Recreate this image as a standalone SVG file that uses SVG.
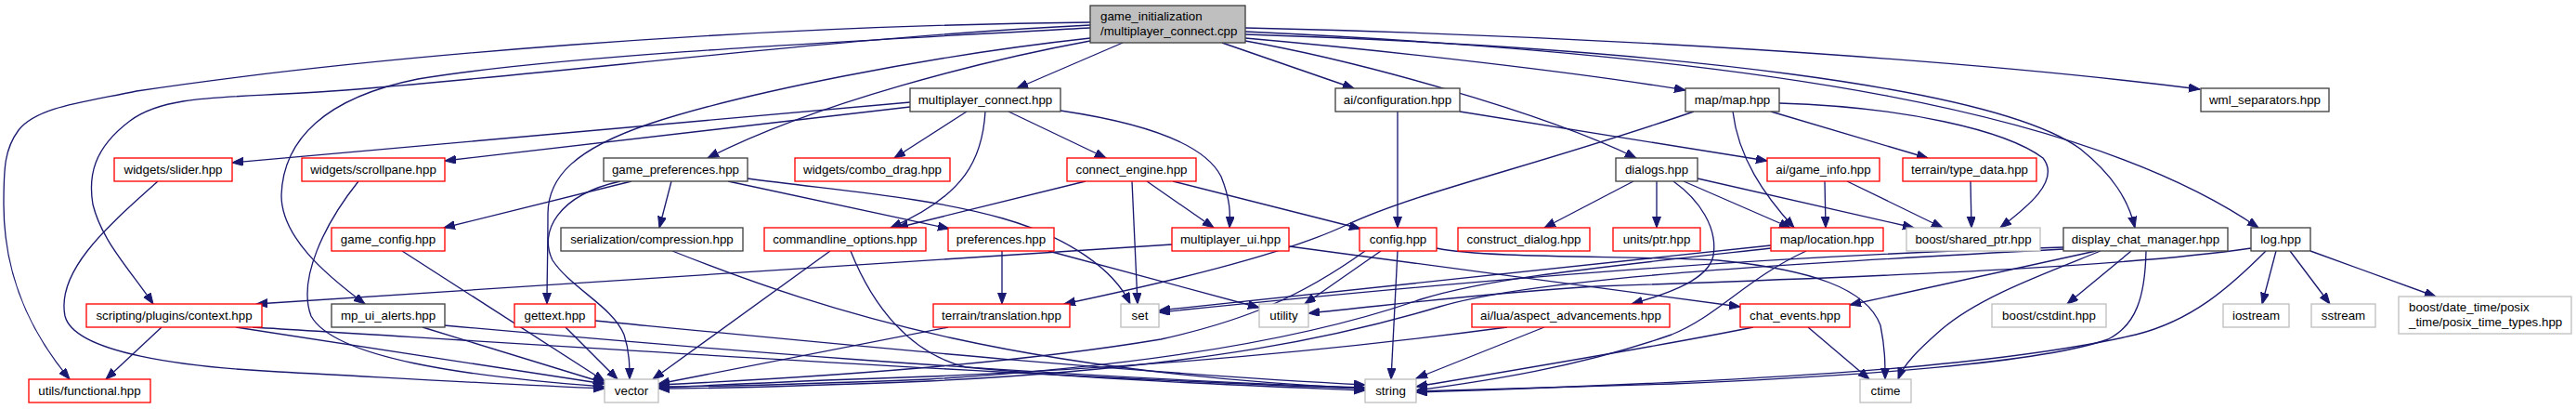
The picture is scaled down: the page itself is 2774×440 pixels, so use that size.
<svg xmlns="http://www.w3.org/2000/svg" width="2774" height="440" viewBox="0 0 2774 440">
<style>
rect{fill:#fff;stroke-width:1.33}
.n{stroke:#404040}
.r{stroke:#ff0000}
.g{stroke:#bfbfbf}
.top{fill:#bfbfbf;stroke:#404040}
text{font-family:"Liberation Sans",Arial,sans-serif;font-size:13.33px;fill:#000;text-anchor:middle}
text.l{text-anchor:start}
#edges path{fill:none;stroke:#191970;stroke-width:1.33;marker-end:url(#a)}
</style>
<defs>
<marker id="a" markerWidth="13" markerHeight="10" refX="12" refY="4.5" orient="auto" markerUnits="userSpaceOnUse">
<path d="M0,0 L12,4.5 L0,9 z" fill="#191970" stroke="#191970" stroke-width="1"/>
</marker>
</defs>
<rect width="2774" height="440" fill="#fff" stroke="none"/>
<g id="edges">
<path d="M1209,46 L1095,95"/>
<path d="M1174,44 C1060,65 880,110 762,170"/>
<path d="M1316,46 L1458,95"/>
<path d="M1341,41 C1500,55 1700,78 1815,97"/>
<path d="M1341,44 C1460,65 1660,120 1762,170"/>
<path d="M1341,30 C1700,38 2100,62 2369,96"/>
<path d="M1341,34 C1900,60 2250,120 2432,245"/>
<path d="M1341,37 C1800,52 2150,95 2240,160 C2275,188 2292,215 2299,245"/>
<path d="M1174,30 C900,45 600,60 450,85 C350,105 305,150 303,210 C303,255 350,295 393,327"/>
<path d="M1174,41 C1000,60 800,100 700,133 C620,160 590,190 590,230 C590,270 589,300 589,327"/>
<path d="M1174,27 C900,40 600,80 357,98 C250,106 180,100 140,130 C100,160 95,190 100,220 C110,260 140,290 165,327"/>
<path d="M1174,24 C800,28 400,60 147,98 C90,110 40,115 20,140 C5,160 4,180 4,220 C4,300 35,360 75,408"/>
<path d="M980,110 L250,175"/>
<path d="M980,115 L479,173"/>
<path d="M1041,120 L963,170"/>
<path d="M1086,120 L1191,170"/>
<path d="M1061,120 C1058,170 1040,210 959,245"/>
<path d="M1142,119 C1250,135 1300,160 1315,190 C1325,215 1325,230 1324,245"/>
<path d="M1505,120 L1505,245"/>
<path d="M1572,120 L1903,173"/>
<path d="M1866,120 C1872,170 1900,210 1932,245"/>
<path d="M1907,120 L2076,170"/>
<path d="M1916,111 C2050,115 2160,140 2200,170 C2220,195 2180,225 2154,245"/>
<path d="M1824,120 C1650,180 1530,205 1450,242 C1380,275 1250,305 1146,327"/>
<path d="M1759,195 L1663,245"/>
<path d="M1784,195 L1784,245"/>
<path d="M1802,195 C1830,215 1850,245 1845,275 C1840,300 1800,315 1757,327"/>
<path d="M1813,195 L1928,245"/>
<path d="M1828,192 L2061,245"/>
<path d="M1965,195 L1966,245"/>
<path d="M1989,195 L2092,245"/>
<path d="M2122,195 L2123,245"/>
<path d="M680,195 L478,245"/>
<path d="M668,195 C600,210 580,250 595,280 C615,310 660,330 672,360 C678,378 678,395 678,408"/>
<path d="M723,195 L710,245"/>
<path d="M784,195 L1022,246"/>
<path d="M805,192 C900,205 1000,212 1080,235 C1150,255 1200,290 1217,327"/>
<path d="M1169,195 L966,245"/>
<path d="M1219,195 L1225,327"/>
<path d="M1235,195 L1307,245"/>
<path d="M1263,195 L1465,246"/>
<path d="M433,270 L651,410"/>
<path d="M724,270 C900,340 1100,400 1470,418"/>
<path d="M894,270 L703,408"/>
<path d="M916,270 C940,330 980,380 1040,395 C1200,410 1350,415 1470,420"/>
<path d="M1079,270 L1079,327"/>
<path d="M1129,270 L1356,331"/>
<path d="M1262,263 L276,327"/>
<path d="M1388,265 L1874,330"/>
<path d="M1505,270 L1498,408"/>
<path d="M1487,270 L1405,327"/>
<path d="M1470,270 C1400,320 1340,345 1250,365 C1100,390 900,405 709,414"/>
<path d="M1547,267 C1600,278 1750,275 1850,280 C1950,290 2010,310 2025,350 C2030,375 2030,390 2030,408"/>
<path d="M1945,270 C1880,300 1850,340 1800,360 C1700,395 1600,410 1525,420"/>
<path d="M1907,264 L1248,334"/>
<path d="M1907,267 C1700,290 1600,300 1530,322 C1450,350 1300,390 1000,408 C850,414 760,416 709,416"/>
<path d="M2222,266 C1900,275 1600,300 1248,336"/>
<path d="M2222,268 C1900,285 1650,300 1550,330 C1450,360 1300,395 1000,410 C850,416 760,418 709,418"/>
<path d="M2257,270 L1992,328"/>
<path d="M2262,270 C2200,295 2130,320 2090,355 C2065,377 2050,392 2044,408"/>
<path d="M2295,270 L2226,327"/>
<path d="M2311,270 C2310,320 2300,350 2270,365 C2200,390 2000,405 1800,413 C1700,416 1600,418 1525,421"/>
<path d="M2451,270 L2436,327"/>
<path d="M2466,270 L2509,327"/>
<path d="M2488,270 L2623,319"/>
<path d="M2424,267 C2300,285 2100,295 1720,308 C1600,315 1500,328 1409,337"/>
<path d="M2440,270 C2400,310 2360,345 2300,360 C2150,395 1900,410 1525,422"/>
<path d="M1623,352 C1450,375 1250,395 1000,405 C850,410 760,415 709,417"/>
<path d="M1663,352 L1525,407"/>
<path d="M1947,352 L2013,408"/>
<path d="M1888,352 C1800,370 1650,395 1525,416"/>
<path d="M174,352 L114,408"/>
<path d="M254,352 L651,413"/>
<path d="M272,352 C600,372 1100,405 1470,418"/>
<path d="M455,352 L651,412"/>
<path d="M478,350 C700,370 1100,405 1470,417"/>
<path d="M609,352 L665,408"/>
<path d="M641,345 C900,370 1200,400 1470,414"/>
<path d="M170,195 C120,240 60,290 70,340 C80,380 200,395 300,400 C450,408 550,414 651,418"/>
<path d="M386,195 C350,240 320,300 335,340 C360,385 500,405 651,416"/>
<path d="M1021,352 L709,413"/>
</g>
<g id="n_cpp"><rect class="top" x="1174" y="6" width="167" height="40"/><text class="l" x="1185" y="22">game_initialization</text><text class="l" x="1185" y="38">/multiplayer_connect.cpp</text></g>
<g id="n_mpc"><rect class="n" x="980" y="95" width="162" height="25"/><text x="1061" y="112">multiplayer_connect.hpp</text></g>
<g id="n_aiconf"><rect class="n" x="1438" y="95" width="134" height="25"/><text x="1505" y="112">ai/configuration.hpp</text></g>
<g id="n_mapmap"><rect class="n" x="1815" y="95" width="101" height="25"/><text x="1865.5" y="112">map/map.hpp</text></g>
<g id="n_wml"><rect class="n" x="2370" y="95" width="138" height="25"/><text x="2439" y="112">wml_separators.hpp</text></g>
<g id="n_slider"><rect class="r" x="123" y="170" width="127" height="25"/><text x="186.5" y="187">widgets/slider.hpp</text></g>
<g id="n_scrollpane"><rect class="r" x="325" y="170" width="154" height="25"/><text x="402" y="187">widgets/scrollpane.hpp</text></g>
<g id="n_gameprefs"><rect class="n" x="650" y="170" width="155" height="25"/><text x="727.5" y="187">game_preferences.hpp</text></g>
<g id="n_combo"><rect class="r" x="856" y="170" width="167" height="25"/><text x="939.5" y="187">widgets/combo_drag.hpp</text></g>
<g id="n_connect"><rect class="r" x="1149" y="170" width="139" height="25"/><text x="1218.5" y="187">connect_engine.hpp</text></g>
<g id="n_dialogs"><rect class="n" x="1740" y="170" width="88" height="25"/><text x="1784" y="187">dialogs.hpp</text></g>
<g id="n_gameinfo"><rect class="r" x="1903" y="170" width="121" height="25"/><text x="1963.5" y="187">ai/game_info.hpp</text></g>
<g id="n_typedata"><rect class="r" x="2049" y="170" width="144" height="25"/><text x="2121" y="187">terrain/type_data.hpp</text></g>
<g id="n_gameconfig"><rect class="r" x="357" y="245" width="122" height="25"/><text x="418" y="262">game_config.hpp</text></g>
<g id="n_serial"><rect class="n" x="604" y="245" width="196" height="25"/><text x="702" y="262">serialization/compression.hpp</text></g>
<g id="n_cmdline"><rect class="r" x="823" y="245" width="174" height="25"/><text x="910" y="262">commandline_options.hpp</text></g>
<g id="n_prefs"><rect class="r" x="1021" y="245" width="114" height="25"/><text x="1078" y="262">preferences.hpp</text></g>
<g id="n_mpui"><rect class="r" x="1262" y="245" width="126" height="25"/><text x="1325" y="262">multiplayer_ui.hpp</text></g>
<g id="n_config"><rect class="r" x="1464" y="245" width="83" height="25"/><text x="1505.5" y="262">config.hpp</text></g>
<g id="n_construct"><rect class="r" x="1570" y="245" width="142" height="25"/><text x="1641" y="262">construct_dialog.hpp</text></g>
<g id="n_unitsptr"><rect class="r" x="1737" y="245" width="94" height="25"/><text x="1784" y="262">units/ptr.hpp</text></g>
<g id="n_location"><rect class="r" x="1907" y="245" width="121" height="25"/><text x="1967.5" y="262">map/location.hpp</text></g>
<g id="n_sharedptr"><rect class="g" x="2053" y="245" width="144" height="25"/><text x="2125" y="262">boost/shared_ptr.hpp</text></g>
<g id="n_dcm"><rect class="n" x="2222" y="245" width="177" height="25"/><text x="2310.5" y="262">display_chat_manager.hpp</text></g>
<g id="n_log"><rect class="n" x="2424" y="245" width="64" height="25"/><text x="2456" y="262">log.hpp</text></g>
<g id="n_context"><rect class="r" x="93" y="327" width="189" height="25"/><text x="187.5" y="344">scripting/plugins/context.hpp</text></g>
<g id="n_mpuialerts"><rect class="n" x="357" y="327" width="122" height="25"/><text x="418" y="344">mp_ui_alerts.hpp</text></g>
<g id="n_gettext"><rect class="r" x="554" y="327" width="87" height="25"/><text x="597.5" y="344">gettext.hpp</text></g>
<g id="n_translation"><rect class="r" x="1005" y="327" width="147" height="25"/><text x="1078.5" y="344">terrain/translation.hpp</text></g>
<g id="n_set"><rect class="g" x="1207" y="327" width="41" height="25"/><text x="1227.5" y="344">set</text></g>
<g id="n_utility"><rect class="g" x="1356" y="327" width="53" height="25"/><text x="1382.5" y="344">utility</text></g>
<g id="n_aspect"><rect class="r" x="1585" y="327" width="213" height="25"/><text x="1691.5" y="344">ai/lua/aspect_advancements.hpp</text></g>
<g id="n_chatevents"><rect class="r" x="1874" y="327" width="118" height="25"/><text x="1933" y="344">chat_events.hpp</text></g>
<g id="n_cstdint"><rect class="g" x="2145" y="327" width="123" height="25"/><text x="2206.5" y="344">boost/cstdint.hpp</text></g>
<g id="n_iostream"><rect class="g" x="2394" y="327" width="71" height="25"/><text x="2429.5" y="344">iostream</text></g>
<g id="n_sstream"><rect class="g" x="2489" y="327" width="69" height="25"/><text x="2523.5" y="344">sstream</text></g>
<g id="n_posix"><rect class="g" x="2583" y="319" width="186" height="40"/><text class="l" x="2594" y="335">boost/date_time/posix</text><text class="l" x="2594" y="351">_time/posix_time_types.hpp</text></g>
<g id="n_functional"><rect class="r" x="31" y="408" width="131" height="25"/><text x="96.5" y="425">utils/functional.hpp</text></g>
<g id="n_vector"><rect class="g" x="651" y="408" width="58" height="25"/><text x="680" y="425">vector</text></g>
<g id="n_string"><rect class="g" x="1470" y="408" width="55" height="25"/><text x="1497.5" y="425">string</text></g>
<g id="n_ctime"><rect class="g" x="2003" y="408" width="55" height="25"/><text x="2030.5" y="425">ctime</text></g>
</svg>
